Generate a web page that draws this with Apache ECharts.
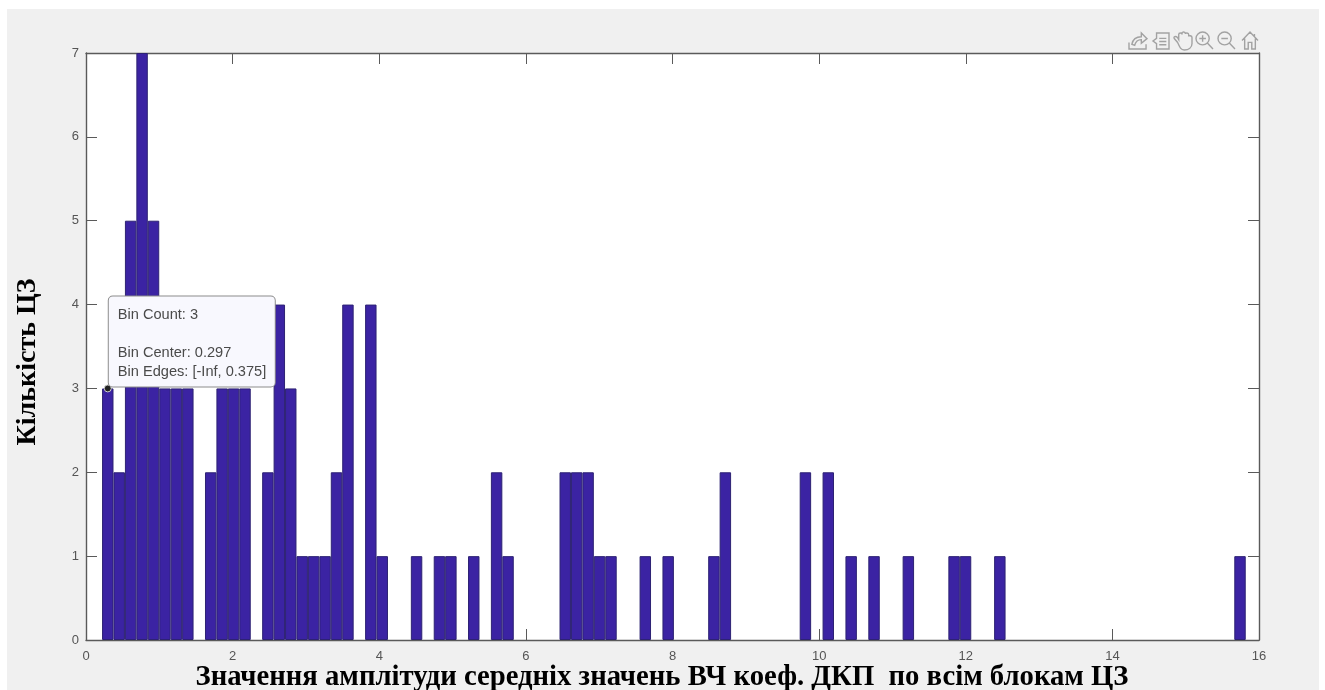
<!DOCTYPE html>
<html><head><meta charset="utf-8">
<style>html,body{margin:0;padding:0;background:#fff}#c{width:1325px;height:690px}</style>
<script src="https://cdn.jsdelivr.net/npm/echarts@6/dist/echarts.min.js"></script>
</head><body><div id="c"></div>
<script>
const binCenters = [0.297,0.453,0.609,0.765,0.921,1.077,1.233,1.389,1.701,1.857,2.013,2.169,2.481,2.637,2.793,2.949,3.105,3.261,3.417,3.573,3.885,4.041,4.509,4.821,4.977,5.289,5.601,5.757,6.537,6.693,6.849,7.005,7.161,7.629,7.941,8.565,8.721,9.813,10.125,10.437,10.749,11.217,11.841,11.997,12.465,15.741];
const binCounts = [3,2,5,7,5,3,3,3,2,3,3,3,2,4,3,1,1,1,2,4,4,1,1,1,1,1,2,1,2,2,2,1,1,1,1,1,2,2,2,1,1,1,1,1,1,1];
const tipPoint = [0.297,3];
const tipLines = ['Bin Count: 3','','Bin Center: 0.297','Bin Edges: [-Inf, 0.375]'];
const xTitle = 'Значення амплітуди середніх значень ВЧ коеф. ДКП  по всім блокам ЦЗ';
const yTitle = 'Кількість ЦЗ';

const axisGrey = '#5a5a5a', labelGrey = '#555555', iconGrey = '#a2a2a2';
const tick = {show:true, inside:true, length:11, lineStyle:{color:axisGrey,width:1}};
const line = {show:true, onZero:false, lineStyle:{color:axisGrey,width:1.4}};
const title = {color:'#000', fontFamily:'Liberation Serif', fontWeight:'bold', fontSize:28.7};

const toolbarIcons = [
  [1129,33,18,16,'M1 12 V19 H19 V14 M4 14 C5 9 9 6 14 6 V2 L20 8 L14 13 V9 C11 9 8 11 7 15 Z'],
  [1153,33,16,16,'M5 3 H19 V18 H5 V13 L1 10.5 L5 8 Z M8 8 H16 M8 11 H16 M8 14 H16'],
  [1174,32,18,18,'M5 12 L2 8 C1 6 3 5 5 7 L6 9 V4 C6 2 9 2 9 4 V2.5 C9 1 12 1 12 3 V3.5 C12 2 15 2 15 4 V6 C15 4.5 18 5 18 7 V13 C18 17 15 19.5 11 19.5 C8 19.5 7 17 5 12 Z'],
  [1196,32,17,17,'M8 1 A7 7 0 1 1 7.99 1 Z M13 13 L19 19.5 M8 4.5 V11.5 M4.5 8 H11.5'],
  [1218,32,17,17,'M8 1 A7 7 0 1 1 7.99 1 Z M13 13 L19 19.5 M4.5 8 H11.5'],
  [1242,32,16,17,'M1 10 L10 1 L19 10 M15 3 V6 M4 8 V19 H8 V12 H12 V19 H16 V8']
];

const chart = echarts.init(document.getElementById('c'), null, {renderer:'canvas'});
chart.setOption({
  animation:false,
  backgroundColor:'#ffffff',
  graphic:[{type:'rect', z:-10, silent:true, shape:{x:7,y:9,width:1312,height:681}, style:{fill:'#f0f0f0'}},
           {type:'rect', z:-9, silent:true, shape:{x:86,y:53,width:1173,height:587}, style:{fill:'#ffffff'}}],
  grid:{left:86,right:66,top:53,bottom:50,show:false,outerBoundsMode:'none'},
  xAxis:[
    {type:'value',min:0,max:16,interval:2,position:'bottom',axisLine:line,axisTick:tick,splitLine:{show:false},
     axisLabel:{color:labelGrey,fontFamily:'Liberation Sans',fontSize:13,margin:10},
     name:xTitle,nameLocation:'middle',nameGap:23,nameMoveOverlap:false,nameTextStyle:Object.assign({padding:[0,21,0,0]},title)},
    {type:'value',min:0,max:16,interval:2,position:'top',axisLine:line,axisTick:tick,axisLabel:{show:false},splitLine:{show:false}}
  ],
  yAxis:[
    {type:'value',min:0,max:7,interval:1,position:'left',axisLine:line,axisTick:tick,splitLine:{show:false},
     axisLabel:{color:labelGrey,fontFamily:'Liberation Sans',fontSize:13,margin:7},
     name:yTitle,nameLocation:'middle',nameGap:44,nameRotate:90,nameTextStyle:Object.assign({},title,{fontSize:28,padding:[0,31,0,0]})},
    {type:'value',min:0,max:7,interval:1,position:'right',axisLine:line,axisTick:tick,axisLabel:{show:false},splitLine:{show:false}}
  ],
  series:[
    {type:'bar',barWidth:11.44,z:2,
     data:binCenters.map((c,i)=>[c,binCounts[i]]),
     itemStyle:{color:'#3b23a3',borderColor:'#2d2273',borderWidth:1}},
    {type:'scatter',z:10,symbolSize:7,data:[tipPoint],
     itemStyle:{color:'#222222',borderColor:'#cfcfcf',borderWidth:1,opacity:1},
     label:{show:true,position:[5,-88],formatter:tipLines.join('\n'),
       width:150,height:74,padding:[9,7,7,9],lineHeight:19,align:'left',verticalAlign:'top',
       color:'#4a4a4a',fontFamily:'Liberation Sans',fontSize:14.6,
       backgroundColor:'#f8f8fe',borderColor:'#8c8c8c',borderWidth:1,borderRadius:4}},
    {type:'custom',coordinateSystem:'none',silent:true,z:5,
     data:toolbarIcons.map((d,i)=>[i]),
     renderItem:(p)=>{const t=toolbarIcons[p.dataIndex];return {type:'path',
       shape:{pathData:t[4],x:t[0],y:t[1],width:t[2],height:t[3],layout:'cover'},
       style:{fill:'none',stroke:iconGrey,lineWidth:1.4}};}}
  ]
});
</script></body></html>
